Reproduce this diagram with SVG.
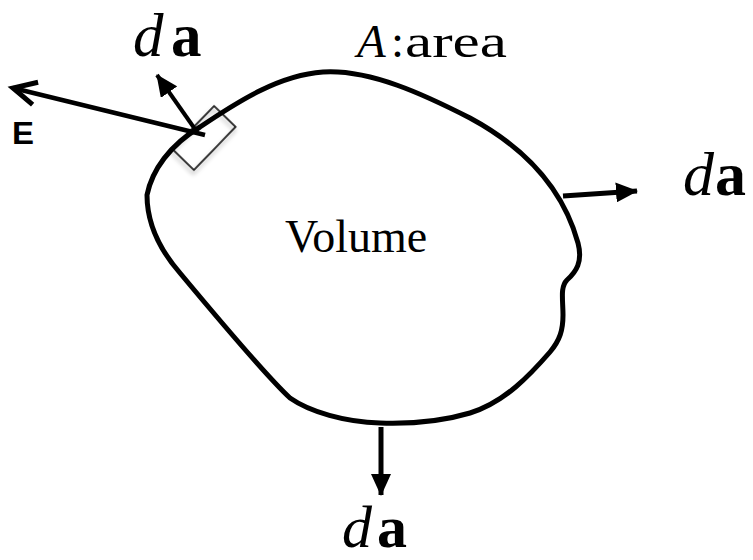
<svg xmlns="http://www.w3.org/2000/svg" width="753" height="560" viewBox="0 0 753 560">
  <style>
    .conn { stroke: #000; fill: none; }
    .serif { font-family: "Liberation Serif", "Times New Roman", Times, serif; }
  </style>
  <defs>
    <marker id="tri" markerUnits="userSpaceOnUse" markerWidth="22" markerHeight="20" refX="21" refY="10" orient="auto">
      <path d="M0,0 L22,10 L0,20 Z" fill="#000"/>
    </marker>
    <marker id="open" markerUnits="userSpaceOnUse" markerWidth="32" markerHeight="32" refX="26" refY="14" orient="auto" overflow="visible">
      <polyline points="3,2.5 26,14 3,25.5" fill="none" stroke="#000" stroke-width="5" stroke-linejoin="miter"/>
    </marker>
    <filter id="shadow" x="-30%" y="-30%" width="160%" height="160%">
      <feDropShadow dx="2" dy="3" stdDeviation="2" flood-color="#000" flood-opacity="0.35"/>
    </filter>
  </defs>

  <g id="volume">
    <path d="M147,195 C152,170 170,145 200,127 C240,100 280,75 323,72 C370,69 425,95 470,118 C520,145 562,185 578,243 C583,262 576,272 567,280 C560,287 563,300 563,315 C563,330 560,340 550,352 C530,375 505,402 470,413 C440,422 410,424 380,423 C345,422 310,412 290,398 C265,375 215,315 180,273 C160,250 147,225 147,195 Z" fill="none" stroke="#000" stroke-width="5"/>
    <text class="serif" x="285" y="252" font-size="46">Volume</text>
  </g>

  <g id="area-label" class="serif" font-size="47">
    <text x="357" y="57" font-style="italic">A</text>
    <text x="391" y="57">:</text>
    <text x="405" y="57" textLength="102" lengthAdjust="spacingAndGlyphs">area</text>
  </g>

  <g id="surface-element">
    <rect x="-15" y="-30" width="30" height="60" transform="translate(204,138) rotate(44)" fill="none" stroke="#000" stroke-width="1.5" filter="url(#shadow)"/>
  </g>

  <g id="connectors">
    <line class="conn" x1="205" y1="135" x2="13" y2="88" stroke-width="4.5" marker-end="url(#open)"/>
    <line class="conn" x1="197" y1="132" x2="157" y2="75" stroke-width="4" marker-end="url(#tri)"/>
    <line class="conn" x1="563" y1="196" x2="637" y2="191" stroke-width="5" marker-end="url(#tri)"/>
    <line class="conn" x1="381" y1="427" x2="381" y2="495" stroke-width="5" marker-end="url(#tri)"/>
  </g>

  <g id="labels">
    <text x="12" y="144" font-family="'Liberation Sans', Arial, sans-serif" font-weight="bold" font-size="32" textLength="22" lengthAdjust="spacingAndGlyphs">E</text>
    <text class="serif" y="56" font-size="61"><tspan font-style="italic" x="133">d</tspan><tspan font-weight="bold" x="171">a</tspan></text>
    <text class="serif" y="195" font-size="62"><tspan font-style="italic" x="683">d</tspan><tspan font-weight="bold" x="715">a</tspan></text>
    <text class="serif" y="547" font-size="60"><tspan font-style="italic" x="342">d</tspan><tspan font-weight="bold" x="377">a</tspan></text>
  </g>
</svg>
